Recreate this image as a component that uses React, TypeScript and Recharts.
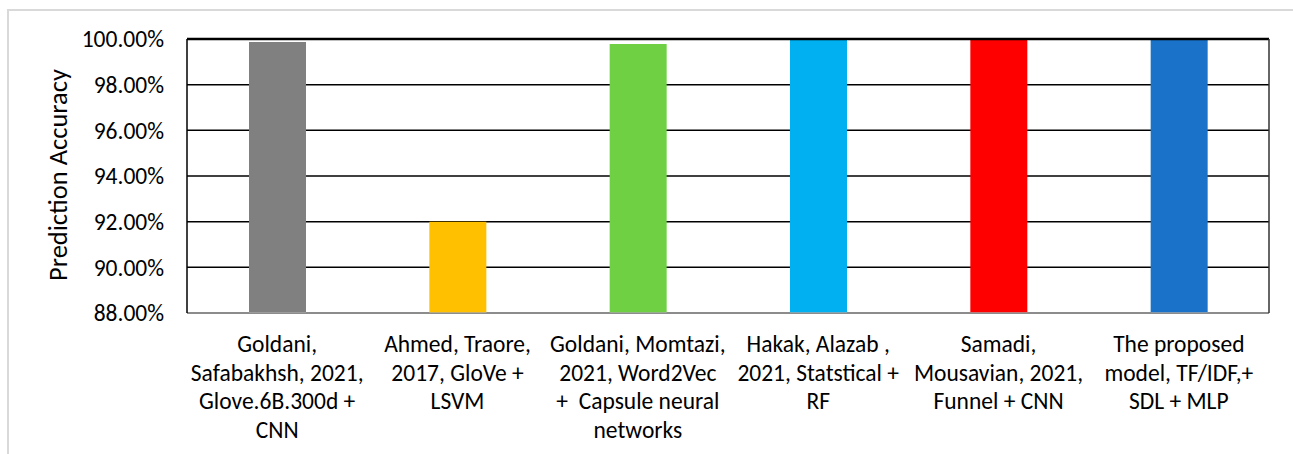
import { BarChart, Bar, Cell, XAxis, YAxis, CartesianGrid, ReferenceLine, Label } from 'recharts';

const categories = ['Goldani 2021', 'Ahmed 2017', 'Goldani Momtazi 2021', 'Hakak 2021', 'Samadi 2021', 'Proposed'];
const categoryLines = [
    ['Goldani,', 'Safabakhsh, 2021,', 'Glove.6B.300d +', 'CNN'],
    ['Ahmed, Traore,', '2017, GloVe +', 'LSVM'],
    ['Goldani, Momtazi,', '2021, Word2Vec', '+  Capsule neural', 'networks'],
    ['Hakak, Alazab ,', '2021, Statstical +', 'RF'],
    ['Samadi,', 'Mousavian, 2021,', 'Funnel + CNN'],
    ['The proposed', 'model, TF/IDF,+', 'SDL + MLP'],
];
const accuracy = [99.87, 92.0, 99.78, 100.0, 99.96, 100.0];
const yTicks = [88, 90, 92, 94, 96, 98, 100];
const barColors = ['#808080', '#FFC000', '#6FD044', '#00B0F0', '#FF0000', '#1A73C8'];

const data = categories.map((c, i) => ({ name: c, idx: i, value: accuracy[i] }));

const FONT = "Carlito, 'Open Sans', sans-serif";

function CategoryTick(props: any) {
    const { x, y, payload } = props;
    const lines = categoryLines[payload.index] || [];
    return (
        <text x={x} y={y + 39} textAnchor="middle" fill="#000" fontSize={23.5} fontFamily={FONT} style={{ whiteSpace: 'pre' }}>
            {lines.map((l, i) => (
                <tspan key={i} x={x} dy={i === 0 ? 0 : 28.5}>{l}</tspan>
            ))}
        </text>
    );
}

export default function App() {
    return (
        <div style={{ position: 'absolute', left: 0, top: 0, width: 1293, height: 454, background: '#fff', overflow: 'hidden' }}>
            <div style={{ position: 'absolute', left: 7, top: 9, width: 1300, height: 460, borderTop: '2px solid #d9d9d9', borderLeft: '2px solid #d9d9d9' }} />
            <div style={{ position: 'absolute', left: 0, top: 0 }}>
                <BarChart width={1293} height={454} data={data} margin={{ top: 39, right: 0, bottom: 0, left: 0 }}>
                    <CartesianGrid vertical={false} stroke="#000" strokeWidth={1.5} />
                    <XAxis
                        dataKey="name"
                        height={141}
                        tickSize={0}
                        tickMargin={0}
                        tickLine={false}
                        axisLine={{ stroke: '#a6a6a6', strokeWidth: 1.5 }}
                        tick={<CategoryTick />}
                        interval={0}
                    />
                    <YAxis
                        width={187}
                        domain={[88, 100]}
                        ticks={yTicks}
                        tickLine={false}
                        tickSize={0}
                        tickMargin={23}
                        axisLine={{ stroke: '#000', strokeWidth: 1.5 }}
                        tick={{ fill: '#000', fontSize: 23.5, fontFamily: FONT }}
                        tickFormatter={(v) => `${v.toFixed(2)}%`}
                    >
                        <Label
                            content={() => (
                                <text
                                    x={67}
                                    y={175}
                                    transform="rotate(-90 67 175)"
                                    textAnchor="middle"
                                    fill="#000"
                                    fontSize={26.5}
                                    fontFamily={FONT}
                                >
                                    Prediction Accuracy
                                </text>
                            )}
                        />
                    </YAxis>
                    <YAxis
                        yAxisId="frame"
                        orientation="right"
                        width={24}
                        domain={[88, 100]}
                        tick={false}
                        tickLine={false}
                        axisLine={{ stroke: '#333', strokeWidth: 1.5 }}
                    />
                    <Bar dataKey="value" barSize={57} isAnimationActive={false}>
                        {data.map((d, i) => (
                            <Cell key={d.name} fill={barColors[i % barColors.length]} />
                        ))}
                    </Bar>
                    <ReferenceLine y={100} stroke="#000" strokeWidth={2.5} />
                </BarChart>
            </div>
        </div>
    );
}
